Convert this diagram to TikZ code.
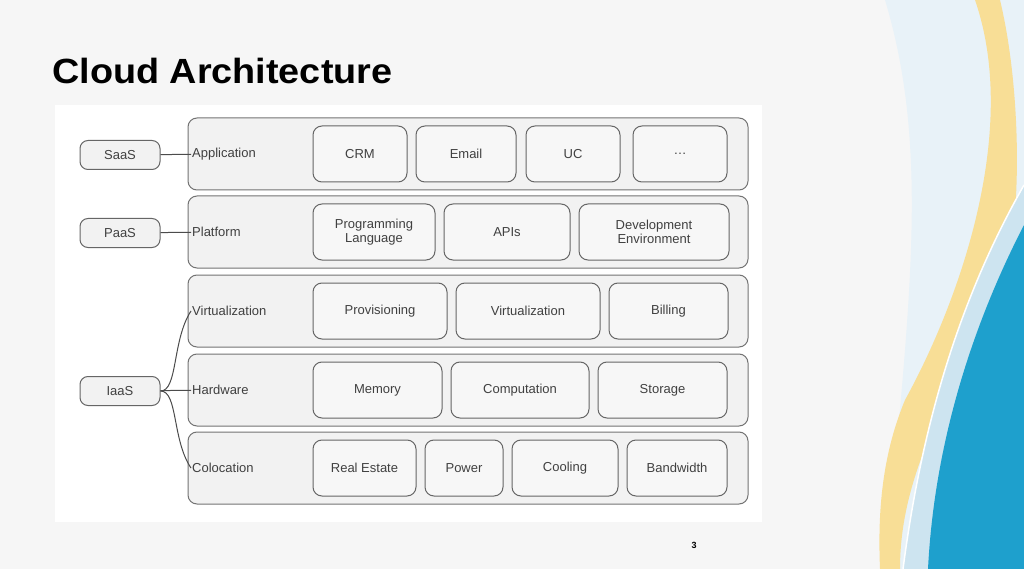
\documentclass[tikz,border=0pt]{standalone}
\usepackage{fontspec}
\setmainfont{Liberation Sans}
\definecolor{bgl}{RGB}{246,246,246}
\definecolor{pale}{RGB}{232,242,248}
\definecolor{sand}{RGB}{248,222,150}
\definecolor{lblue}{RGB}{205,228,240}
\definecolor{teal}{RGB}{30,160,205}
\begin{document}
\begin{tikzpicture}[x=1pt,y=-1pt,
 layer/.style={draw=black!55,line width=1pt,rounded corners=9pt,fill=black!5},
 item/.style={draw=black!60,line width=1pt,rounded corners=9pt,fill=black!3,font=\fontsize{13}{14}\selectfont,text=black!75,align=center},
 tag/.style={draw=black!60,line width=1pt,rounded corners=8pt,fill=black!5,minimum width=80pt,minimum height=29pt,font=\fontsize{13}{14}\selectfont,text=black!75},
 lbl/.style={font=\fontsize{13}{14}\selectfont,text=black!75,anchor=west,inner sep=1pt},
 conn/.style={draw=black!70,line width=1pt}]
\useasboundingbox (0,0) rectangle (1024,569);
\fill[bgl] (0,0) rectangle (1024,569);
% right decoration
\fill[pale] (885,0) .. controls (930,150) and (910,300) .. (885,569) -- (1024,569) -- (1024,0) -- cycle;
\fill[sand] (975,0) .. controls (1020,130) and (960,300) .. (905,400) .. controls (880,460) and (878,520) .. (880,569) -- (900,569) .. controls (900,500) and (925,430) .. (990,320) .. controls (1024,260) and (1024,100) .. (1000,0) -- cycle;
\fill[lblue] (1024,185) .. controls (970,280) and (925,400) .. (903,569) -- (1024,569) -- cycle;
\draw[white,line width=1.5pt] (1024,185) .. controls (970,280) and (925,400) .. (903,569);
\fill[teal] (1024,225) .. controls (980,310) and (935,430) .. (928,569) -- (1024,569) -- cycle;
\node[font=\bfseries\fontsize{35}{40}\selectfont,anchor=west,inner sep=0pt,xscale=1.08] (title) at (52,71) {Cloud Architecture};
\node[font=\bfseries\fontsize{9}{10}\selectfont] (pg) at (694,545) {3};
\fill[white] (55,105) rectangle (762,522);
% layers
\foreach \n/\y in {app/118,plat/196,virt/275,hw/354,colo/432}
  \draw[layer] (188,\y) rectangle (748,\y+72);
\node[lbl] (lapp) at (191,154) {Application};
\node[lbl] (lplat) at (191,232) {Platform};
\node[lbl] (lvirt) at (191,311) {Virtualization};
\node[lbl] (lhw) at (191,390) {Hardware};
\node[lbl] (lcolo) at (191,468) {Colocation};
\newcommand\itm[6]{\node[item,minimum width=#3-#2,minimum height=56pt] (#1) at ({(#2+#3)/2},#4) {#5};}
\itm{crm}{313}{407}{154}{CRM}{}
\itm{email}{416}{516}{154}{Email}{}
\itm{uc}{526}{620}{154}{UC}{}
\itm{dots}{633}{727}{154}{\dots}{}
\itm{pl}{313}{435}{232}{Programming\\Language}{}
\itm{apis}{444}{570}{232}{APIs}{}
\itm{dev}{579}{729}{232}{Development\\Environment}{}
\itm{prov}{313}{447}{311}{Provisioning}{}
\itm{virtz}{456}{600}{311}{Virtualization}{}
\itm{bill}{609}{728}{311}{Billing}{}
\itm{mem}{313}{442}{390}{Memory}{}
\itm{comp}{451}{589}{390}{Computation}{}
\itm{stor}{598}{727}{390}{Storage}{}
\itm{re}{313}{416}{468}{Real Estate}{}
\itm{pow}{425}{503}{468}{Power}{}
\itm{cool}{512}{618}{468}{Cooling}{}
\itm{band}{627}{727}{468}{Bandwidth}{}
\node[tag] (saas) at (120,155) {SaaS};
\node[tag] (paas) at (120,233) {PaaS};
\node[tag] (iaas) at (120,391) {IaaS};
\draw[conn] (saas) -- (lapp);
\draw[conn] (paas) -- (lplat);
\draw[conn] (iaas) -- (lhw);
\draw[conn] (iaas.east) .. controls (178,391) and (172,340) .. (lvirt.west);
\draw[conn] (iaas.east) .. controls (178,391) and (172,440) .. (lcolo.west);
\end{tikzpicture}
\end{document}
